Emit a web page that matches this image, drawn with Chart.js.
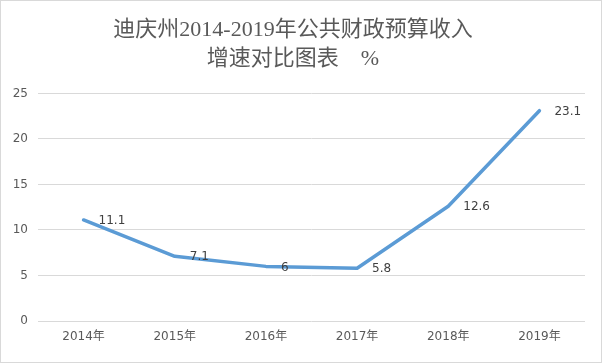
<!DOCTYPE html>
<html><head><meta charset="utf-8">
<script src="https://cdn.jsdelivr.net/npm/chart.js@4/dist/chart.umd.min.js"></script>
<style>
html,body{margin:0;padding:0;background:#fff;}
#wrap{position:relative;width:600px;height:361px;border:1px solid #d9d9d9;}
</style></head>
<body><div id="wrap"><canvas id="c" width="600" height="361"></canvas></div>
<script>
const categories = ['2014年','2015年','2016年','2017年','2018年','2019年'];
const growthValues = [11.1, 7.1, 6, 5.8, 12.6, 23.1];
const yTicks = [0, 5, 10, 15, 20, 25];
const titleLines = ['迪庆州2014-2019年公共财政预算收入', '增速对比图表　%'];

const labelPlugin = {
  id: 'pointLabels',
  afterDatasetsDraw(chart) {
    const ctx = chart.ctx;
    const meta = chart.getDatasetMeta(0);
    ctx.save();
    ctx.font = '12px "DejaVu Sans", "Noto Sans CJK SC"';
    ctx.fillStyle = '#404040';
    ctx.textAlign = 'left';
    ctx.textBaseline = 'middle';
    meta.data.forEach((pt, i) => {
      ctx.fillText(String(growthValues[i]), pt.x + 15, pt.y + 1);
    });
    ctx.restore();
  }
};

new Chart(document.getElementById('c'), {
  type: 'line',
  data: {
    labels: categories,
    datasets: [{
      data: growthValues,
      borderColor: '#5B9BD5',
      borderWidth: 3.5,
      pointRadius: 0,
      tension: 0,
      fill: false,
      borderCapStyle: 'round',
      borderJoinStyle: 'round'
    }]
  },
  options: {
    responsive: false,
    animation: false,
    layout: { padding: { top: 0, right: 16, bottom: 0, left: 0 } },
    plugins: {
      legend: { display: false },
      tooltip: { enabled: false },
      title: {
        display: true,
        text: titleLines,
        color: '#595959',
        font: { family: '"Liberation Serif", "Noto Sans CJK SC"', size: 22, weight: 'normal', lineHeight: 1.35 },
        padding: { top: 14, bottom: 19 }
      }
    },
    scales: {
      x: {
        offset: true,
        grid: { display: false, drawTicks: false },
        border: { display: false },
        ticks: { color: '#595959', font: { family: '"DejaVu Sans", "Noto Sans CJK SC"', size: 12 }, padding: 9, maxRotation: 0 },
        afterFit(s) { s.height = 41; }
      },
      y: {
        min: 0, max: 25,
        afterBuildTicks(s) { s.ticks = yTicks.map(v => ({ value: v })); },
        grid: { color: '#d9d9d9', drawTicks: false, lineWidth: 1 },
        border: { display: false },
        ticks: { color: '#595959', font: { family: '"DejaVu Sans", "Noto Sans CJK SC"', size: 12 }, padding: 10 },
        afterFit(s) { s.width = 37; }
      }
    }
  },
  plugins: [labelPlugin]
});
</script></body></html>
